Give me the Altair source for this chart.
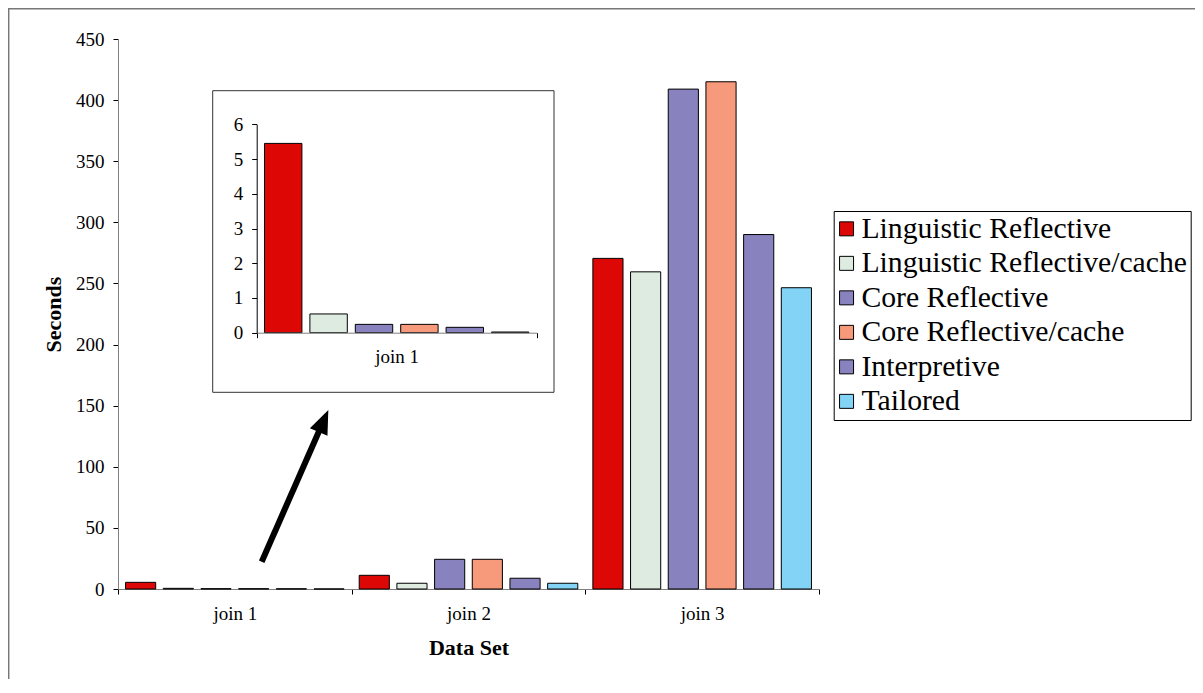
import altair as alt
import pandas as pd

# ---- data ----
datasets = ["join 1", "join 2", "join 3"]
series_names = [
    "Linguistic Reflective",
    "Linguistic Reflective/cache",
    "Core Reflective",
    "Core Reflective/cache",
    "Interpretive",
    "Tailored",
]
ling_reflective = [5.45, 11.2, 270.5]
ling_reflective_cache = [0.54, 4.7, 259.5]
core_reflective = [0.24, 24.3, 409.0]
core_reflective_cache = [0.24, 24.3, 415.0]
interpretive = [0.155, 8.8, 290.0]
tailored = [0.02, 4.7, 246.5]
series_colors = ["#DD0806", "#DDEBE0", "#8882BE", "#F7997B", "#8882BE", "#82D3F6"]
main_ticks = [0, 50, 100, 150, 200, 250, 300, 350, 400, 450]
inset_ticks = [0, 1, 2, 3, 4, 5, 6]

all_values = [ling_reflective, ling_reflective_cache, core_reflective,
              core_reflective_cache, interpretive, tailored]
rows = []
for name, vals in zip(series_names, all_values):
    for ds, v in zip(datasets, vals):
        rows.append({"dataset": ds, "series": name, "seconds": v})
df = pd.DataFrame(rows)

# ---- layout constants (pixels, plot-area coordinates) ----
W, H = 701, 550
SERIF = "Liberation Serif"
inset_x0, inset_x1 = 138.7, 418.7
inset_y0, inset_y6 = 293.7, 85.3

legend = alt.Legend(
    title=None, orient="none", legendX=715.7, legendY=172,
    strokeColor="black", fillColor="white", padding=3,
    symbolType="square", symbolSize=196, symbolStrokeColor="black",
    symbolStrokeWidth=1, symbolOffset=-5, labelFont=SERIF, labelFontSize=29.7,
    labelColor="black", rowPadding=3.5, labelOffset=0, labelLimit=0,
)
color = alt.Color("series:N", sort=series_names,
                  scale=alt.Scale(domain=series_names, range=series_colors),
                  legend=legend)

one = alt.Data(values=[{"a": 1}])

frame_left = alt.Chart(one).mark_rule(color="#777777", strokeWidth=1.5).encode(
    x=alt.value(-109.3), y=alt.value(-31), y2=alt.value(700))
frame_top = alt.Chart(one).mark_rule(color="#777777", strokeWidth=1.5).encode(
    x=alt.value(-110), x2=alt.value(1200), y=alt.value(-30.3))

main = alt.Chart(df).mark_bar(stroke="black", strokeWidth=1).encode(
    x=alt.X("dataset:N", sort=datasets,
            scale=alt.Scale(paddingInner=0, paddingOuter=0),
            axis=alt.Axis(title="Data Set", orient="bottom", tickBand="extent",
                          labelAngle=0, tickSize=5, labelPadding=10,
                          domainColor="#808080", tickColor="black",
                          titlePadding=14)),
    xOffset=alt.XOffset("series:N", sort=series_names,
                        scale=alt.Scale(paddingInner=0.2, paddingOuter=0.2)),
    y=alt.Y("seconds:Q", scale=alt.Scale(domain=[0, 450], nice=False),
            axis=alt.Axis(title="Seconds", orient="left", values=main_ticks,
                          grid=False, tickSize=5, labelPadding=9,
                          domainColor="#808080", tickColor="black",
                          titlePadding=10)),
    color=color,
)

arrow_shaft = alt.Chart(one).mark_rule(color="black", strokeWidth=6, strokeCap="butt").encode(
    x=alt.value(143.7), y=alt.value(522.7), x2=alt.value(205.5), y2=alt.value(382))
arrow_head = alt.Chart(one).mark_point(
    shape="M0,-1L-0.8,1L0.8,1Z", filled=True, color="black", opacity=1,
    size=576, angle=23.7).encode(x=alt.value(205.5), y=alt.value(382))

inset_box = alt.Chart(one).mark_rect(fill="white", stroke="#333333", strokeWidth=1).encode(
    x=alt.value(94.7), x2=alt.value(436), y=alt.value(51.7), y2=alt.value(353.3))

inset = alt.Chart(df).transform_filter(alt.datum.dataset == "join 1").mark_bar(
    stroke="black", strokeWidth=1).encode(
    x=alt.X("dataset:N", sort=datasets,
            scale=alt.Scale(domain=["join 1"], range=[inset_x0, inset_x1],
                            paddingInner=0, paddingOuter=0),
            axis=alt.Axis(title=None, orient="bottom", offset=inset_y0 - H,
                          tickBand="extent", labelAngle=0, tickSize=5,
                          labelPadding=10, domainColor="#808080",
                          tickColor="black", zindex=2)),
    xOffset=alt.XOffset("series:N", sort=series_names,
                        scale=alt.Scale(paddingInner=0.176, paddingOuter=0.172)),
    y=alt.Y("seconds:Q",
            scale=alt.Scale(domain=[0, 6], range=[inset_y0, inset_y6], nice=False),
            axis=alt.Axis(title=None, orient="left", offset=-inset_x0,
                          values=inset_ticks, grid=False, tickSize=5,
                          labelPadding=9, domainColor="black",
                          tickColor="black", zindex=2)),
    color=color,
)

chart = alt.layer(
    frame_left, frame_top, main, arrow_shaft, arrow_head, inset_box, inset
).resolve_scale(
    x="independent", y="independent", xOffset="independent"
).resolve_axis(
    x="independent", y="independent"
).properties(
    width=W, height=H,
    autosize=alt.AutoSizeParams(type="none"),
    padding={"left": 110, "top": 31, "right": 376, "bottom": 90},
    background="white",
).configure_view(stroke=None).configure_axis(
    labelFont=SERIF, labelFontSize=19, labelColor="black",
    titleFont=SERIF, titleFontSize=22, titleFontWeight="bold",
    titleColor="black",
)

chart.save("out.html", embed_options={"renderer": "svg", "actions": False})
